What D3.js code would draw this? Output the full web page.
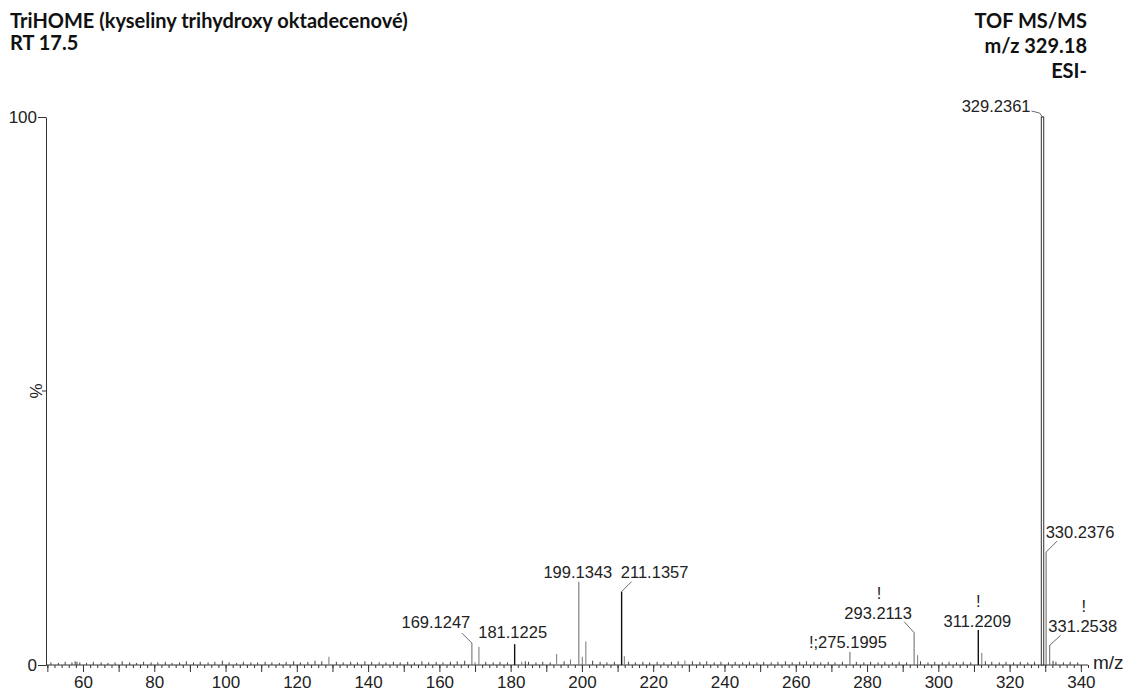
<!DOCTYPE html>
<html><head><meta charset="utf-8">
<script src="https://cdn.jsdelivr.net/npm/d3@7"></script>
<style>body{margin:0;background:#fff} svg{display:block}</style>
</head><body>
<svg id="c" width="1130" height="692"></svg>
<script>
// ---------- data ----------
const titleLines = ["TriHOME (kyseliny trihydroxy oktadecenové)", "RT 17.5"];
const infoLines = ["TOF MS/MS", "m/z 329.18", "ESI-"];
const xTickLabels = [60, 80, 100, 120, 140, 160, 180, 200, 220, 240, 260, 280, 300, 320, 340];
const yTickLabels = [0, 100];
const xAxisTitle = "m/z";
const yAxisTitle = "%";

// labelled peaks (m/z, relative intensity %)
const labeledMz  = [169.1247, 181.1225, 199.1343, 211.1357, 275.1995, 293.2113, 311.2209, 329.2361, 330.2376, 331.2538];
const labeledInt = [4.0, 3.8, 15.2, 13.4, 2.4, 5.9, 6.4, 100, 20.6, 3.6];
const labeledText = ["169.1247", "181.1225", "199.1343", "211.1357", "!;275.1995", "293.2113", "311.2209", "329.2361", "330.2376", "331.2538"];
const labeledFlag = [false, false, false, false, false, true, true, false, false, true];

// other visible peaks
const minorMz  = [129.0, 170.0, 171.1, 183.1, 192.9, 196.8, 200.1, 201.1, 211.9, 228.9, 294.2, 312.2];
const minorInt = [1.5, 0.5, 3.3, 0.6, 2.0, 1.0, 1.5, 4.3, 1.6, 0.8, 1.8, 2.2];

// baseline noise
const noiseMz = [51.0,53.1,55.0,56.9,57.8,58.3,59.1,61.0,62.9,65.1,67.0,69.0,71.0,73.1,75.0,77.0,79.1,81.0,83.1,85.0,87.1,89.0,91.0,92.9,95.1,97.0,99.1,101.0,103.1,105.0,107.1,109.0,111.1,113.0,115.1,117.0,119.1,121.0,123.1,125.1,127.0,131.1,133.0,135.1,137.0,139.1,141.0,143.1,145.0,147.1,149.0,151.1,153.0,155.1,157.0,159.1,161.0,163.1,165.0,167.1,173.0,175.1,177.0,179.1,184.1,185.0,187.1,189.0,191.1,195.0,203.0,205.1,207.0,209.1,213.1,215.0,217.1,219.0,221.1,223.0,225.1,227.0,231.0,233.1,235.0,237.1,239.0,241.1,243.0,245.1,247.0,249.1,251.0,253.1,255.0,257.1,259.0,261.1,263.0,265.1,267.0,269.1,271.0,273.1,277.0,279.1,281.0,283.1,285.0,287.1,289.0,291.1,295.0,297.1,299.0,301.1,303.0,305.1,307.0,309.1,313.2,315.0,317.1,319.0,321.1,323.0,325.1,327.0,332.2,333.0,335.1,337.0,339.1];
const noiseInt = [0.3,0.2,0.4,0.3,0.5,0.4,0.3,0.2,0.4,0.3,0.2,0.3,0.5,0.3,0.2,0.4,0.3,0.3,0.4,0.2,0.3,0.5,0.3,0.4,0.3,0.4,0.6,0.3,0.2,0.4,0.3,0.3,0.4,0.3,0.2,0.4,0.5,0.3,0.4,0.6,0.5,0.4,0.3,0.4,0.3,0.5,0.4,0.3,0.3,0.4,0.3,0.4,0.3,0.5,0.3,0.4,0.3,0.4,0.5,0.6,0.4,0.3,0.4,0.3,0.5,0.4,0.3,0.4,0.3,0.5,0.6,0.4,0.3,0.4,0.4,0.3,0.4,0.3,0.4,0.3,0.4,0.5,0.5,0.4,0.5,0.3,0.4,0.3,0.4,0.3,0.4,0.3,0.4,0.3,0.4,0.5,0.3,0.4,0.5,0.4,0.3,0.4,0.3,0.4,0.4,0.3,0.4,0.3,0.4,0.3,0.4,0.3,0.5,0.3,0.4,0.3,0.4,0.3,0.4,0.3,0.5,0.4,0.3,0.4,0.3,0.4,0.3,0.4,0.6,0.4,0.3,0.4,0.3];

// ---------- layout (not data) ----------
const labelLayout = [
  {dx:-36, dy:-15, anchor:"middle", leader:[[-10,-10],[0,0]]},   // 169
  {dx:-2,  dy:-6,  anchor:"middle", leader:null},                 // 181
  {dx:-1,  dy:-4,  anchor:"middle", leader:null},                 // 199
  {dx:33,  dy:-14, anchor:"middle", leader:[[10,-10],[0,0]]},     // 211
  {dx:-2,  dy:-4,  anchor:"middle", leader:null},                 // 275
  {dx:-36, dy:-14, anchor:"middle", leader:[[-10,-11],[0,0]]},    // 293
  {dx:-1,  dy:-3,  anchor:"middle", leader:null},                 // 311
  {dx:-12, dy:-5,  anchor:"end",    leader:[[-11,-6],[-3,-4],[0,0]]}, // 329
  {dx:34,  dy:-14, anchor:"middle", leader:[[11,-11],[0,0]]},     // 330
  {dx:33,  dy:-13, anchor:"middle", leader:[[11,-10],[0,0]]}      // 331
];
const darkPeaks = [181.1225, 211.1357, 311.2209, 329.2361];

const svg = d3.select("#c");
const x0 = 46, x1 = 1088, yTop = 117, yBase = 665;
const x = d3.scaleLinear().domain([49.62, 342.0]).range([x0, x1]);
const y = d3.scaleLinear().domain([0, 100]).range([yBase, yTop]);

const labelFont = "'Liberation Sans', Arial, sans-serif";
const titleFont = "Lato, 'Open Sans', sans-serif";

// titles
svg.selectAll("text.title").data(titleLines).join("text")
  .attr("x", 10).attr("y", (d, i) => [28, 50][i])
  .attr("font-family", titleFont).attr("font-weight", "bold").attr("font-size", 20)
  .attr("fill", "#111").text(d => d);
svg.selectAll("text.info").data(infoLines).join("text")
  .attr("x", 1087).attr("y", (d, i) => [28, 53, 78][i]).attr("text-anchor", "end")
  .attr("font-family", titleFont).attr("font-weight", "bold").attr("font-size", 20)
  .attr("fill", "#111").text(d => d);

// x axis: minor, major, labels
const gx = svg.append("g").attr("transform", `translate(0,${yBase})`);
const minorTicks = d3.range(50, 342.1, 2);
const majorTicks = d3.range(50, 341, 10);
gx.append("g").call(d3.axisBottom(x).tickValues(minorTicks).tickSize(3).tickFormat("").tickSizeOuter(0))
  .call(g => g.select(".domain").remove());
gx.append("g").call(d3.axisBottom(x).tickValues(majorTicks).tickSize(7).tickFormat("").tickSizeOuter(0))
  .call(g => g.select(".domain").remove());
gx.append("g").call(d3.axisBottom(x).tickValues(xTickLabels).tickSize(0).tickSizeOuter(0))
  .call(g => g.select(".domain").remove())
  .call(g => g.selectAll("text").attr("y", 23).attr("dy", 0)
    .attr("font-family", labelFont).attr("font-size", 17).attr("fill", "#222"));
gx.append("line").attr("x1", x0).attr("x2", x1).attr("y1", 0).attr("y2", 0).attr("stroke", "#333");
gx.selectAll(".tick line").attr("stroke", "#333");

svg.append("text").attr("x", 1093).attr("y", 669)
  .attr("font-family", labelFont).attr("font-size", 19).attr("fill", "#222").text(xAxisTitle);

// y axis
const gy = svg.append("g").attr("transform", `translate(${x0},0)`);
gy.call(d3.axisLeft(y).tickValues(yTickLabels).tickSize(8).tickSizeOuter(0).tickPadding(1))
  .call(g => g.select(".domain").attr("stroke", "#333"))
  .call(g => g.selectAll(".tick line").attr("stroke", "#333"))
  .call(g => g.selectAll("text").attr("font-family", labelFont).attr("font-size", 17).attr("fill", "#222").attr("dy", "0.35em"));
gy.append("line").attr("x1", -4).attr("x2", 0).attr("y1", y(50)).attr("y2", y(50)).attr("stroke", "#333");
svg.append("text").attr("transform", `translate(42,${y(50)}) rotate(-90)`)
  .attr("text-anchor", "middle").attr("font-family", labelFont).attr("font-size", 17).attr("fill", "#222").text(yAxisTitle);

// noise
svg.append("g").selectAll("line").data(noiseMz).join("line")
  .attr("x1", d => x(d)).attr("x2", d => x(d))
  .attr("y1", y(0)).attr("y2", (d, i) => y(noiseInt[i]) - 1)
  .attr("stroke", "#444").attr("stroke-width", 1);

// minor peaks
svg.append("g").selectAll("line").data(minorMz).join("line")
  .attr("x1", d => x(d)).attr("x2", d => x(d))
  .attr("y1", y(0)).attr("y2", (d, i) => y(minorInt[i]))
  .attr("stroke", "#777").attr("stroke-width", 1);

// labelled peaks
const pk = svg.append("g");
labeledMz.forEach((m, i) => {
  const px = x(m), py = y(labeledInt[i]);
  const dark = darkPeaks.includes(m);
  if (labeledInt[i] >= 100) {
    pk.append("rect").attr("x", px - 1.2).attr("y", py).attr("width", 2.4).attr("height", y(0) - py)
      .attr("fill", "#fff").attr("stroke", "#333").attr("stroke-width", 1);
  } else {
    pk.append("line").attr("x1", px).attr("x2", px).attr("y1", y(0)).attr("y2", py)
      .attr("stroke", dark ? "#111" : "#666").attr("stroke-width", dark ? 1.4 : 1);
  }
  const L = labelLayout[i];
  pk.append("text").attr("x", px + L.dx).attr("y", py + L.dy).attr("text-anchor", L.anchor)
    .attr("font-family", labelFont).attr("font-size", 16.5).attr("fill", "#222").text(labeledText[i]);
  if (labeledFlag[i]) {
    pk.append("text").attr("x", px + L.dx + 1).attr("y", py + L.dy - 20).attr("text-anchor", "middle")
      .attr("font-family", labelFont).attr("font-size", 16.5).attr("fill", "#222").text("!");
  }
  if (L.leader) {
    pk.append("path").attr("d", d3.line()(L.leader.map(p => [px + p[0], py + p[1]])))
      .attr("fill", "none").attr("stroke", "#444").attr("stroke-width", 0.8);
  }
});
</script>
</body></html>
